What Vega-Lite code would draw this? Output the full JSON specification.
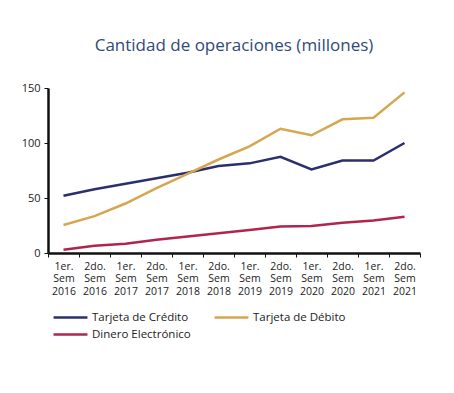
{
  "$schema": "https://vega.github.io/schema/vega-lite/v6.json",
  "autosize": {"type": "none"},
  "width": 372,
  "height": 165,
  "padding": {"left": 48, "top": 88, "right": 34, "bottom": 140},
  "background": "white",
  "config": {"view": {"stroke": null}, "font": "Open Sans"},
  "title": {
    "text": "Cantidad de operaciones (millones)",
    "fontSize": 17,
    "fontWeight": "normal",
    "color": "#2f4a7a",
    "anchor": "middle",
    "offset": 27,
    "font": "Open Sans"
  },
  "data": {
    "values": [
      {"periodo": "1er. Sem 2016", "serie": "Tarjeta de Crédito", "valor": 52},
      {"periodo": "2do. Sem 2016", "serie": "Tarjeta de Crédito", "valor": 58},
      {"periodo": "1er. Sem 2017", "serie": "Tarjeta de Crédito", "valor": 63},
      {"periodo": "2do. Sem 2017", "serie": "Tarjeta de Crédito", "valor": 68},
      {"periodo": "1er. Sem 2018", "serie": "Tarjeta de Crédito", "valor": 73},
      {"periodo": "2do. Sem 2018", "serie": "Tarjeta de Crédito", "valor": 79},
      {"periodo": "1er. Sem 2019", "serie": "Tarjeta de Crédito", "valor": 81.5},
      {"periodo": "2do. Sem 2019", "serie": "Tarjeta de Crédito", "valor": 87.5},
      {"periodo": "1er. Sem 2020", "serie": "Tarjeta de Crédito", "valor": 76},
      {"periodo": "2do. Sem 2020", "serie": "Tarjeta de Crédito", "valor": 84},
      {"periodo": "1er. Sem 2021", "serie": "Tarjeta de Crédito", "valor": 84},
      {"periodo": "2do. Sem 2021", "serie": "Tarjeta de Crédito", "valor": 100},
      {"periodo": "1er. Sem 2016", "serie": "Tarjeta de Débito", "valor": 25.5},
      {"periodo": "2do. Sem 2016", "serie": "Tarjeta de Débito", "valor": 33.5},
      {"periodo": "1er. Sem 2017", "serie": "Tarjeta de Débito", "valor": 45},
      {"periodo": "2do. Sem 2017", "serie": "Tarjeta de Débito", "valor": 59},
      {"periodo": "1er. Sem 2018", "serie": "Tarjeta de Débito", "valor": 72},
      {"periodo": "2do. Sem 2018", "serie": "Tarjeta de Débito", "valor": 85},
      {"periodo": "1er. Sem 2019", "serie": "Tarjeta de Débito", "valor": 97},
      {"periodo": "2do. Sem 2019", "serie": "Tarjeta de Débito", "valor": 113},
      {"periodo": "1er. Sem 2020", "serie": "Tarjeta de Débito", "valor": 107},
      {"periodo": "2do. Sem 2020", "serie": "Tarjeta de Débito", "valor": 121.5},
      {"periodo": "1er. Sem 2021", "serie": "Tarjeta de Débito", "valor": 123},
      {"periodo": "2do. Sem 2021", "serie": "Tarjeta de Débito", "valor": 146},
      {"periodo": "1er. Sem 2016", "serie": "Dinero Electrónico", "valor": 3},
      {"periodo": "2do. Sem 2016", "serie": "Dinero Electrónico", "valor": 6.5},
      {"periodo": "1er. Sem 2017", "serie": "Dinero Electrónico", "valor": 8.5},
      {"periodo": "2do. Sem 2017", "serie": "Dinero Electrónico", "valor": 12},
      {"periodo": "1er. Sem 2018", "serie": "Dinero Electrónico", "valor": 15},
      {"periodo": "2do. Sem 2018", "serie": "Dinero Electrónico", "valor": 18},
      {"periodo": "1er. Sem 2019", "serie": "Dinero Electrónico", "valor": 21},
      {"periodo": "2do. Sem 2019", "serie": "Dinero Electrónico", "valor": 24},
      {"periodo": "1er. Sem 2020", "serie": "Dinero Electrónico", "valor": 24.5},
      {"periodo": "2do. Sem 2020", "serie": "Dinero Electrónico", "valor": 27.5},
      {"periodo": "1er. Sem 2021", "serie": "Dinero Electrónico", "valor": 29.5},
      {"periodo": "2do. Sem 2021", "serie": "Dinero Electrónico", "valor": 33}
    ]
  },
  "mark": {"type": "line", "strokeWidth": 2.5},
  "encoding": {
    "x": {
      "field": "periodo",
      "type": "ordinal",
      "sort": null,
      "scale": {"type": "band", "paddingInner": 0, "paddingOuter": 0},
      "axis": {
        "title": null,
        "labelAngle": 0,
        "labelExpr": "split(datum.label, ' ')",
        "labelLineHeight": 12.6,
        "labelFontSize": 10.5,
        "labelColor": "#222",
        "labelPadding": 4,
        "tickBand": "extent",
        "tickSize": 4,
        "tickColor": "#111",
        "tickWidth": 1,
        "domainColor": "#111",
        "domainWidth": 2.5,
        "grid": false
      }
    },
    "y": {
      "field": "valor",
      "type": "quantitative",
      "scale": {"domain": [0, 150], "nice": false},
      "axis": {
        "title": null,
        "values": [0, 50, 100, 150],
        "labelFontSize": 11,
        "labelColor": "#222",
        "labelPadding": 4,
        "tickSize": 4,
        "tickColor": "#111",
        "domainColor": "#111",
        "domainWidth": 2.5,
        "grid": false
      }
    },
    "color": {
      "field": "serie",
      "type": "nominal",
      "sort": ["Tarjeta de Crédito", "Tarjeta de Débito", "Dinero Electrónico"],
      "scale": {
        "domain": ["Tarjeta de Crédito", "Tarjeta de Débito", "Dinero Electrónico"],
        "range": ["#2b2f6b", "#d6a650", "#b0254d"]
      },
      "legend": {
        "title": null,
        "orient": "none",
        "legendX": 4,
        "legendY": 223,
        "direction": "horizontal",
        "columns": 2,
        "columnPadding": 22,
        "rowPadding": 4,
        "clipHeight": 13,
        "symbolType": "stroke",
        "symbolSize": 1150,
        "symbolStrokeWidth": 2.5,
        "labelOffset": 3,
        "labelFontSize": 11.5,
        "labelColor": "#222"
      }
    }
  }
}
